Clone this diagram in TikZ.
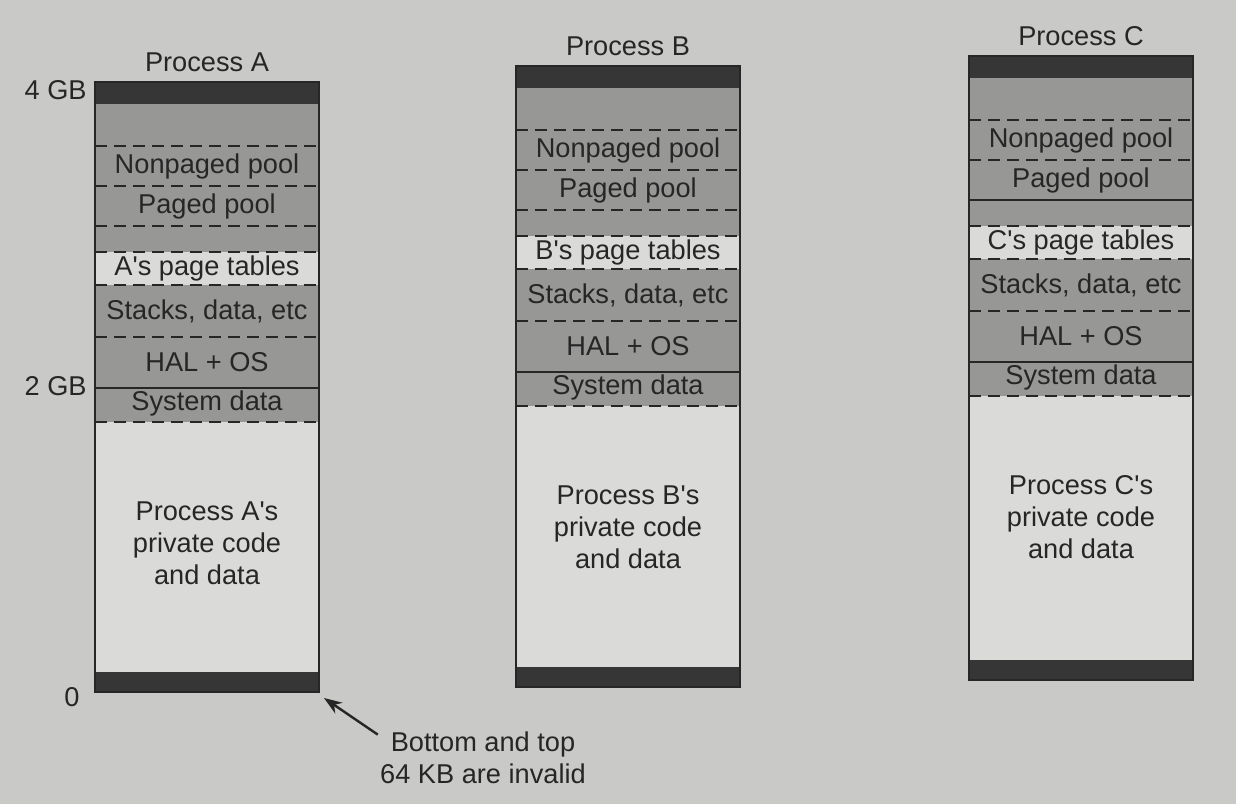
\documentclass[tikz,border=0pt]{standalone}
\usepackage{fontspec}
\setmainfont{Liberation Sans}
\usetikzlibrary{arrows.meta}
\definecolor{paper}{HTML}{C9C9C7}
\definecolor{midgray}{HTML}{979796}
\definecolor{pale}{HTML}{DADAD8}
\definecolor{darkband}{HTML}{363636}
\definecolor{ink}{HTML}{262626}
\tikzset{
  lbl/.style={font=\fontsize{13.6}{16}\selectfont, text=ink, inner sep=0pt, align=center},
  divider/.style={draw=ink, line width=0.7pt, dash pattern=on 6pt off 3.5pt},
  solidline/.style={draw=ink, line width=0.9pt},
  frame/.style={draw=ink, line width=1.1pt},
  pointer/.style={draw=ink, line width=1.2pt, -{Stealth[length=9pt,width=6.5pt]}}
}
\newcommand\apos{\textquotesingle}
% One address-space column: #1 name, #2 left edge, #3 top edge, #4 height,
% #5 process letter, #6 style of the line under the paged pool
\newcommand\memmap[6]{%
  \begin{scope}[shift={(#2,#3)}]
    \fill[midgray] (0,0) rectangle (224,340);
    \fill[pale] (0,170) rectangle (224,203);
    \fill[pale] (0,340) rectangle (224,#4-20);
    \fill[darkband] (0,0) rectangle (224,22);
    \fill[darkband] (0,#4-20) rectangle (224,#4);
    \draw[divider] (0,64) -- (224,64);
    \draw[divider] (0,104) -- (224,104);
    \draw[#6] (0,144) -- (224,144);
    \draw[divider] (0,170) -- (224,170);
    \draw[divider] (0,203) -- (224,203);
    \draw[divider] (0,255) -- (224,255);
    \draw[solidline] (0,306) -- (224,306);
    \draw[divider] (0,340) -- (224,340);
    \draw[frame] (0,0) rectangle (224,#4);
    \coordinate (#1-ne) at (224,0);
    \coordinate (#1-se) at (224,#4);
    \coordinate (#1-nw) at (0,0);
    \coordinate (#1-sw) at (0,#4);
    \node[lbl] (#1-title) at (112,-20) {Process #5};
    \node[lbl] (#1-np) at (112,84) {Nonpaged pool};
    \node[lbl] (#1-pp) at (112,124) {Paged pool};
    \node[lbl] (#1-pt) at (112,186.5) {#5\apos s page tables};
    \node[lbl] (#1-st) at (112,229) {Stacks, data, etc};
    \node[lbl] (#1-hal) at (112,280.5) {HAL + OS};
    \node[lbl] (#1-sd) at (112,321) {System data};
    \node[lbl] (#1-priv) at (112,461) {Process #5\apos s\\private code\\and data};
  \end{scope}}
\begin{document}
\begin{tikzpicture}[x=0.5pt,y=-0.5pt]
  \fill[paper] (0,0) rectangle (1236,804);
  \useasboundingbox (0,0) rectangle (1236,804);

  \memmap{A}{95}{82}{610}{A}{divider}
  \memmap{B}{516}{66}{621}{B}{divider}
  \memmap{C}{969}{56}{624}{C}{solidline}

  % address marks beside the first column
  \node[lbl, anchor=east] (top) at (87,90) {4 GB};
  \node[lbl, anchor=east] (mid) at (87,386) {2 GB};
  \node[lbl, anchor=east] (zero) at (80,697) {0};

  \node[lbl] (note) at (483,758) {Bottom and top\\64 KB are invalid};
  \draw[pointer] ([shift={(-2,3)}]note.north west) -- ([shift={(5,6)}]A-se);
\end{tikzpicture}
\end{document}
